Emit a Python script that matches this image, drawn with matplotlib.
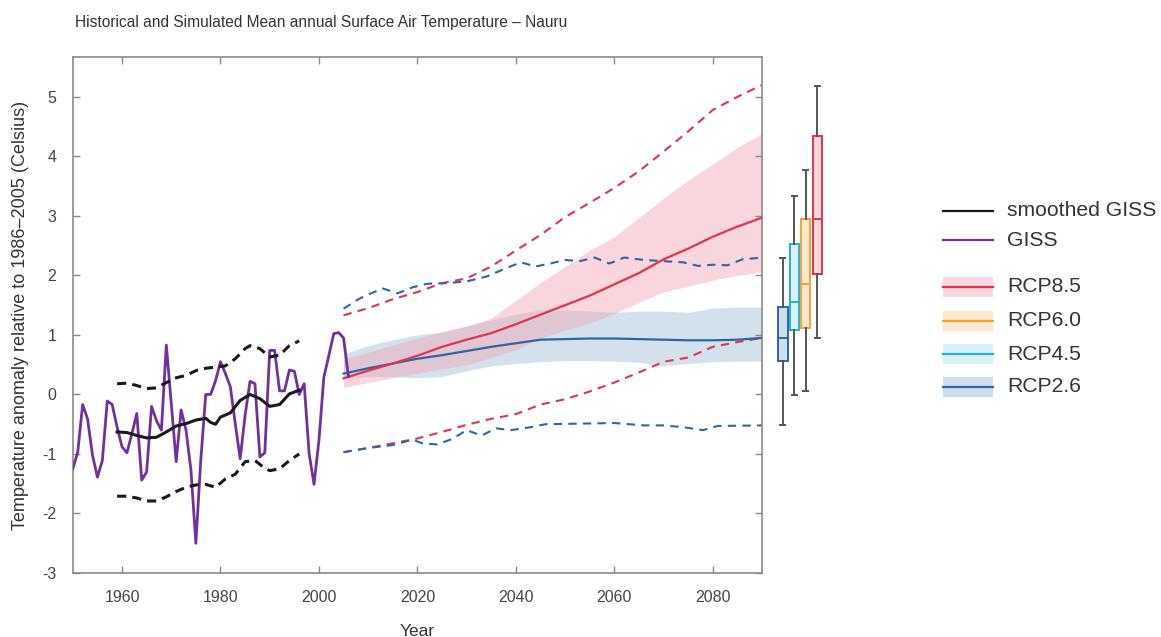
import matplotlib
matplotlib.use('Agg')
import matplotlib.pyplot as plt
from matplotlib.lines import Line2D
from matplotlib.patches import Rectangle

plt.rcParams['font.family'] = ['Liberation Sans', 'DejaVu Sans']
plt.rcParams['axes.unicode_minus'] = False

# ---------------- data ----------------
giss_years = list(range(1950, 2007))
giss_vals = [-1.25, -0.97, -0.17, -0.41, -1.02, -1.39, -1.11, -0.11, -0.17, -0.55,
             -0.88, -0.98, -0.66, -0.32, -1.44, -1.30, -0.20, -0.44, -0.60, 0.83,
             -0.15, -1.13, -0.26, -0.60, -1.27, -2.50, -1.10, 0.00, 0.00, 0.23,
             0.55, 0.35, 0.13, -0.49, -1.08, -0.35, 0.22, 0.18, -1.05, -0.98,
             0.74, 0.74, 0.06, 0.06, 0.41, 0.39, 0.00, 0.18, -0.99, -1.51,
             -0.77, 0.29, 0.65, 1.02, 1.04, 0.95, 0.30]

smooth_years = [1959, 1961, 1963, 1965, 1967, 1969, 1971, 1973, 1975, 1977, 1978, 1979,
                1980, 1982, 1984, 1986, 1988, 1990, 1992, 1994, 1996]
smooth_vals = [-0.63, -0.64, -0.69, -0.73, -0.72, -0.63, -0.53, -0.49, -0.43, -0.40, -0.47, -0.50,
               -0.38, -0.31, -0.10, 0.00, -0.07, -0.20, -0.17, 0.01, 0.07]

smooth_hi_years = [1959, 1961, 1963, 1965, 1967, 1969, 1971, 1973, 1975, 1977, 1979, 1981,
                   1983, 1985, 1986, 1988, 1990, 1992, 1994, 1996]
smooth_hi_vals = [0.18, 0.19, 0.15, 0.10, 0.11, 0.20, 0.28, 0.32, 0.40, 0.44, 0.46, 0.48,
                  0.60, 0.77, 0.82, 0.77, 0.63, 0.66, 0.82, 0.90]

smooth_lo_years = [1959, 1961, 1963, 1965, 1967, 1969, 1971, 1973, 1975, 1977, 1979, 1981,
                   1983, 1985, 1987, 1989, 1990, 1992, 1994, 1996]
smooth_lo_vals = [-1.71, -1.71, -1.74, -1.79, -1.79, -1.72, -1.63, -1.56, -1.52, -1.51, -1.56, -1.42,
                  -1.34, -1.13, -1.11, -1.24, -1.28, -1.25, -1.11, -1.00]

proj_years = list(range(2005, 2091, 5))
rcp85_mean = [0.27, 0.40, 0.52, 0.65, 0.80, 0.92, 1.03, 1.18, 1.34, 1.50, 1.66, 1.85,
              2.04, 2.27, 2.45, 2.65, 2.82, 2.97]
rcp85_lo = [0.12, 0.20, 0.28, 0.36, 0.43, 0.50, 0.62, 0.75, 0.95, 1.08, 1.20, 1.36,
            1.55, 1.72, 1.82, 1.92, 2.00, 2.06]
rcp85_hi = [0.60, 0.71, 0.83, 0.95, 1.05, 1.15, 1.28, 1.58, 1.88, 2.15, 2.42, 2.65,
            2.97, 3.30, 3.60, 3.87, 4.15, 4.38]
rcp85_max = [1.33, 1.45, 1.60, 1.72, 1.87, 1.95, 2.15, 2.42, 2.68, 2.98, 3.22, 3.47,
             3.75, 4.08, 4.42, 4.78, 5.00, 5.20]
rcp85_min = [-0.97, -0.90, -0.82, -0.74, -0.63, -0.51, -0.41, -0.33, -0.17, -0.08, 0.05, 0.20,
             0.37, 0.55, 0.62, 0.80, 0.88, 0.95]

rcp26_mean = [0.35, 0.44, 0.52, 0.60, 0.66, 0.73, 0.80, 0.86, 0.92, 0.93, 0.94, 0.94,
              0.93, 0.92, 0.91, 0.91, 0.92, 0.95]
rcp26_lo = [0.28, 0.30, 0.30, 0.28, 0.30, 0.40, 0.48, 0.52, 0.55, 0.57, 0.57, 0.56,
            0.54, 0.48, 0.52, 0.55, 0.56, 0.56]
rcp26_hi = [0.68, 0.82, 0.92, 1.00, 1.05, 1.15, 1.25, 1.35, 1.42, 1.42, 1.40, 1.38,
            1.40, 1.40, 1.38, 1.45, 1.47, 1.47]

rcp26_max_years = [2005, 2008, 2010, 2013, 2016, 2019, 2022, 2026, 2030, 2034, 2038, 2041,
                   2044, 2047, 2050, 2053, 2056, 2059, 2062, 2066, 2070, 2074, 2077, 2080,
                   2083, 2086, 2090]
rcp26_max = [1.44, 1.60, 1.68, 1.78, 1.70, 1.80, 1.86, 1.87, 1.90, 1.98, 2.12, 2.22,
             2.15, 2.20, 2.26, 2.24, 2.30, 2.20, 2.30, 2.26, 2.24, 2.22, 2.16, 2.18,
             2.17, 2.27, 2.30]
rcp26_min_years = [2005, 2010, 2015, 2019, 2021, 2024, 2027, 2030, 2033, 2036, 2039, 2043,
                   2046, 2053, 2060, 2066, 2070, 2074, 2078, 2081, 2090]
rcp26_min = [-0.97, -0.90, -0.85, -0.76, -0.82, -0.84, -0.75, -0.60, -0.69, -0.57, -0.60, -0.55,
             -0.50, -0.49, -0.48, -0.52, -0.52, -0.55, -0.60, -0.53, -0.52]

box_labels = ['RCP2.6', 'RCP4.5', 'RCP6.0', 'RCP8.5']
box_whislo = [-0.51, -0.01, 0.06, 0.95]
box_q1 = [0.56, 1.08, 1.12, 2.03]
box_med = [0.95, 1.55, 1.86, 2.94]
box_q3 = [1.47, 2.52, 2.94, 4.35]
box_whishi = [2.30, 3.33, 3.77, 5.19]

xticks = [1960, 1980, 2000, 2020, 2040, 2060, 2080]
yticks = [-3, -2, -1, 0, 1, 2, 3, 4, 5]

# ---------------- style ----------------
RED = '#e5334f'
BLUE = '#2c67a3'
PURPLE = '#7030a0'
ORANGE = '#f4a236'
CYAN = '#22b1d9'
box_edge = [BLUE, CYAN, ORANGE, RED]
box_face = ['#cfdeec', '#dbf1f8', '#fde7cf', '#fad8df']
TXT = '#333333'
FRAME = '#8a8a8a'

W, H = 1161, 637
fig = plt.figure(figsize=(W / 100, H / 100), dpi=100)

ylim = (-3, 5.67)
ax = fig.add_axes([72.8 / W, (H - 573) / H, (762 - 72.8) / W, (573 - 57) / H])

ax.fill_between(proj_years, rcp26_lo, rcp26_hi, color='#a9c4dd', alpha=0.5, lw=0, zorder=1)
ax.fill_between(proj_years, rcp85_lo, rcp85_hi, color='#f2a3b4', alpha=0.45, lw=0, zorder=1)

dash = (0, (4, 3))
ax.plot(proj_years, rcp85_max, color=RED, lw=1.5, ls=dash, zorder=2)
ax.plot(proj_years, rcp85_min, color=RED, lw=1.5, ls=dash, zorder=2)
ax.plot(rcp26_max_years, rcp26_max, color=BLUE, lw=1.5, ls=dash, zorder=2)
ax.plot(rcp26_min_years, rcp26_min, color=BLUE, lw=1.5, ls=dash, zorder=2)

ax.plot(proj_years, rcp26_mean, color=BLUE, lw=1.6, zorder=3)
ax.plot(proj_years, rcp85_mean, color=RED, lw=1.6, zorder=3)

ax.plot(giss_years, giss_vals, color=PURPLE, lw=2, zorder=4)
ax.plot(smooth_years, smooth_vals, color='#1a1a1a', lw=2.2, zorder=5)
ax.plot(smooth_hi_years, smooth_hi_vals, color='#1a1a1a', lw=2.2, ls=(0, (3, 2)), zorder=5)
ax.plot(smooth_lo_years, smooth_lo_vals, color='#1a1a1a', lw=2.2, ls=(0, (3, 2)), zorder=5)

ax.set_xlim(1950, 2090)
ax.set_ylim(*ylim)
ax.set_xticks(xticks)
ax.set_yticks(yticks)
ax.set_yticklabels([str(v) for v in yticks])
ax.tick_params(direction='in', length=5, width=1, color=FRAME, top=True, right=True,
               labelsize=11.5, labelcolor='#444444', pad=12)
for s in ax.spines.values():
    s.set_color(FRAME)
    s.set_linewidth(1.2)
ax.set_xlabel('Year', fontsize=12.5, color=TXT, labelpad=14)
ax.set_ylabel('Temperature anomaly relative to 1986\u20132005 (Celsius)', fontsize=13,
              color=TXT, labelpad=9)

fig.text(75 / W, 1 - 22 / H, 'Historical and Simulated Mean annual Surface Air Temperature \u2013 Nauru',
         fontsize=11.2, color=TXT, ha='left', va='center')

# ---------------- boxplots ----------------
bax = fig.add_axes([770 / W, (H - 573) / H, 60 / W, (573 - 57) / H])
bax.set_xlim(770, 830)
bax.set_ylim(*ylim)
bax.axis('off')
positions = [783, 794.3, 805.7, 817.3]
stats = []
for i in range(4):
    stats.append(dict(med=box_med[i], q1=box_q1[i], q3=box_q3[i],
                      whislo=box_whislo[i], whishi=box_whishi[i], label=box_labels[i]))
for i in range(4):
    bax.bxp([stats[i]], positions=[positions[i]], widths=9.5, showfliers=False,
            patch_artist=True,
            boxprops=dict(facecolor=box_face[i], edgecolor=box_edge[i], linewidth=1.4),
            medianprops=dict(color=box_edge[i], linewidth=1.4),
            whiskerprops=dict(color='#555555', linewidth=1.4),
            capprops=dict(color='#555555', linewidth=1.4),
            capwidths=[5], manage_ticks=False)

# ---------------- legend ----------------
lax = fig.add_axes([0, 0, 1, 1], facecolor='none')
lax.set_xlim(0, W)
lax.set_ylim(H, 0)
lax.axis('off')
leg_items = [
    ('smoothed GISS', '#1a1a1a', None, 211),
    ('GISS', PURPLE, None, 240),
    ('RCP8.5', RED, box_face[3], 287),
    ('RCP6.0', ORANGE, box_face[2], 321),
    ('RCP4.5', CYAN, box_face[1], 354),
    ('RCP2.6', BLUE, box_face[0], 387),
]
for label, lc, fc, yy in leg_items:
    if fc is not None:
        lax.add_patch(Rectangle((943, yy - 10), 50, 20, facecolor=fc, edgecolor='none'))
    lax.add_line(Line2D([943, 993], [yy, yy], color=lc, lw=1.6))
    lax.text(1007, yy, label, fontsize=15.2, color=TXT, va='center', ha='left')

fig.savefig('out.png', dpi=100)
